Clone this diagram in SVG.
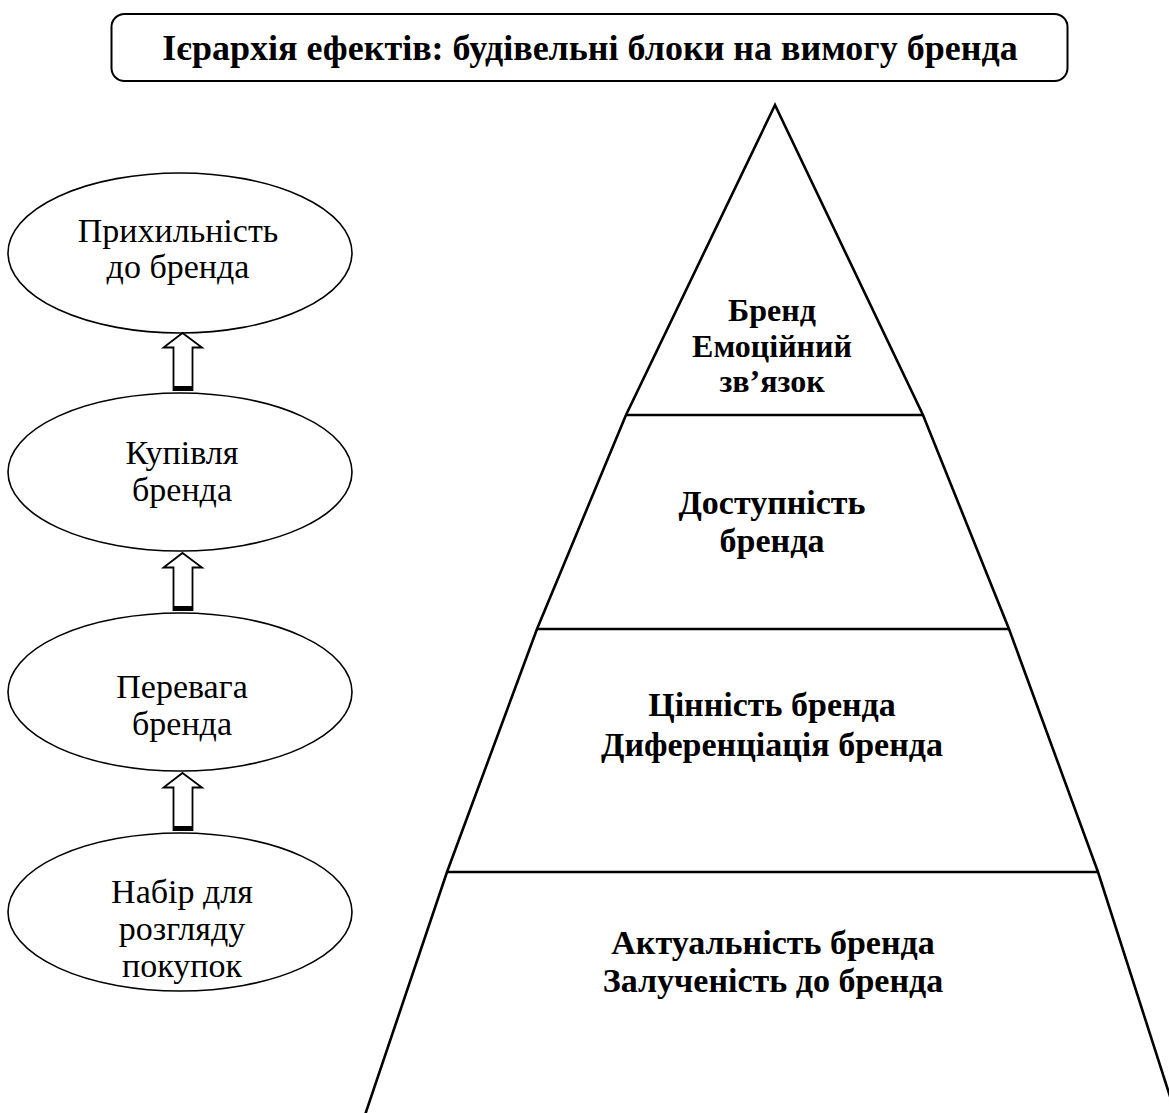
<svg xmlns="http://www.w3.org/2000/svg" width="1169" height="1113" viewBox="0 0 1169 1113">
  <style>
    .ell { fill: #fff; stroke: #000; stroke-width: 1.6; }
    .edge { fill: none; stroke: #000; stroke-width: 2.6; stroke-linejoin: miter; }
    .tier { stroke: #000; stroke-width: 2.6; }
    .arrow { fill: #fff; stroke: #000; stroke-width: 1.8; stroke-linejoin: miter; }
  </style>
  <defs>
    <!-- hollow block arrow pointing up, origin at the tip -->
    <g id="upArrow">
      <path class="arrow" d="M0,0 L19.5,14.5 L10,14.5 L10,57 L-9,57 L-9,14.5 L-19,14.5 Z"/>
      <rect x="-9" y="53" width="19" height="4" fill="#000"/>
    </g>
  </defs>
  <rect width="1169" height="1113" fill="#fff"/>

  <!-- heading -->
  <g id="title">
    <rect x="111.5" y="14" width="956" height="67" rx="13" ry="13" fill="#fff" stroke="#000" stroke-width="2"/>
    <text x="590" y="60" font-family="'Liberation Serif', 'Times New Roman', 'DejaVu Serif', serif" font-size="36" font-weight="bold" text-anchor="middle">Ієрархія ефектів: будівельні блоки на вимогу бренда</text>
  </g>

  <!-- left column: consumer stages -->
  <g font-family="'Liberation Serif', 'Times New Roman', 'DejaVu Serif', serif" font-size="34" text-anchor="middle">
    <g id="stage-loyalty">
      <ellipse class="ell" cx="180" cy="253" rx="172" ry="80"/>
      <text x="178" y="242">Прихильність</text>
      <text x="178" y="278">до бренда</text>
    </g>
    <g id="stage-purchase">
      <ellipse class="ell" cx="180" cy="472" rx="172" ry="79"/>
      <text x="182" y="464">Купівля</text>
      <text x="182" y="501">бренда</text>
    </g>
    <g id="stage-preference">
      <ellipse class="ell" cx="180" cy="692" rx="172" ry="79"/>
      <text x="182" y="698">Перевага</text>
      <text x="182" y="735">бренда</text>
    </g>
    <g id="stage-consideration">
      <ellipse class="ell" cx="180" cy="912" rx="172" ry="79"/>
      <text x="182" y="903">Набір для</text>
      <text x="182" y="940">розгляду</text>
      <text x="182" y="977">покупок</text>
    </g>
  </g>

  <!-- arrows between stages -->
  <g id="connectors">
    <use href="#upArrow" x="182.5" y="333"/>
    <use href="#upArrow" x="182.5" y="553"/>
    <use href="#upArrow" x="182.5" y="773"/>
  </g>

  <!-- pyramid of brand building blocks -->
  <g id="pyramid">
    <polyline class="edge" points="365,1115 447,872 537,629 626,415 775,105 923,415 1009,629 1098,872 1176,1115"/>
    <line class="tier" x1="626" y1="415" x2="923" y2="415"/>
    <line class="tier" x1="537" y1="629" x2="1009" y2="629" stroke-width="4.5"/>
    <line class="tier" x1="447" y1="872" x2="1098" y2="872"/>
  </g>
  <g font-family="'Liberation Serif', 'Times New Roman', 'DejaVu Serif', serif" font-weight="bold" text-anchor="middle">
    <g id="tier-emotion" font-size="32">
      <text x="772" y="321">Бренд</text>
      <text x="772" y="357">Емоційний</text>
      <text x="772" y="392">зв’язок</text>
    </g>
    <g id="tier-access" font-size="34">
      <text x="772" y="514">Доступність</text>
      <text x="772" y="552">бренда</text>
    </g>
    <g id="tier-value" font-size="34">
      <text x="772" y="716">Цінність бренда</text>
      <text x="772" y="756">Диференціація бренда</text>
    </g>
    <g id="tier-relevance" font-size="34">
      <text x="773" y="954">Актуальність бренда</text>
      <text x="773" y="992">Залученість до бренда</text>
    </g>
  </g>
</svg>
